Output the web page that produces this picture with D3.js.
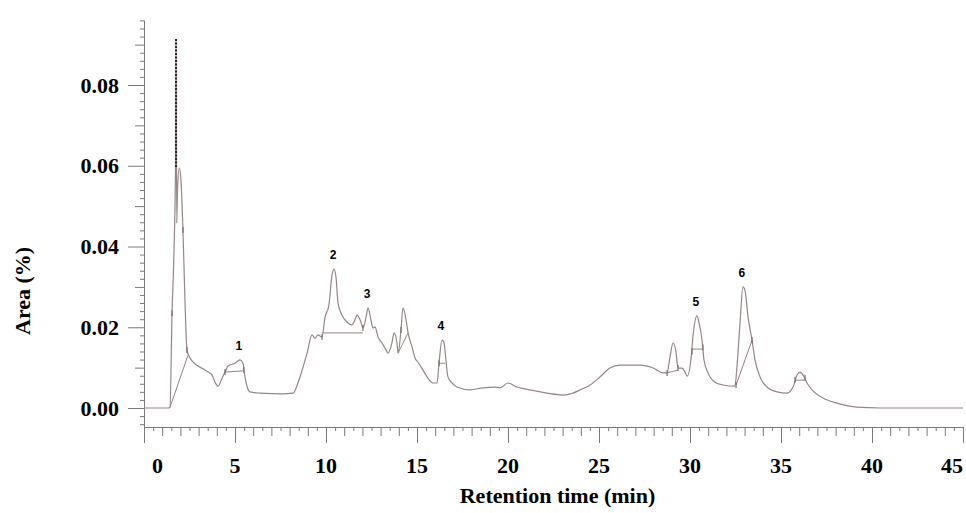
<!DOCTYPE html>
<html>
<head>
<meta charset="utf-8">
<script src="https://cdn.jsdelivr.net/npm/d3@7"></script>
<style>
  body { margin: 0; background: #fff; }
  svg { display: block; }
</style>
</head>
<body>
<div id="chart"></div>
<script>
// chromatogram trace (min, area %)
var time = [0, 1.32, 1.43, 1.54, 1.65, 1.73, 1.76, 1.80, 1.84, 1.94, 2.03, 2.14, 2.25, 2.36, 2.47, 2.69,
  3.24, 3.52, 3.74, 3.90, 4.07, 4.29, 4.45, 4.62, 5.00, 5.27, 5.44, 5.49, 5.66, 5.82, 6.37, 7.64, 8.19,
  8.57, 8.96, 9.23, 9.40, 9.56, 9.78, 9.95, 10.16, 10.33, 10.44, 10.55, 10.66, 10.88, 11.15, 11.43, 11.59,
  11.70, 11.92, 12.03, 12.20, 12.31, 12.47, 12.58, 12.69, 12.86, 13.08, 13.30, 13.41, 13.63, 13.74, 13.90,
  13.96, 14.12, 14.23, 14.40, 14.51, 14.73, 14.89, 15.05, 15.33, 15.60, 15.88, 16.10, 16.21, 16.37, 16.48,
  16.59, 16.70, 16.92, 17.20, 17.91, 18.63, 19.29, 19.56, 20.00, 20.49, 21.21, 22.14, 23.02, 23.57, 23.96,
  24.51, 25.05, 25.60, 26.15, 27.25, 27.97, 28.52, 28.74, 28.90, 29.07, 29.23, 29.34, 29.56, 29.73, 29.84,
  30.05, 30.16, 30.38, 30.49, 30.66, 30.77, 30.99, 31.37, 31.81, 32.47, 32.58, 32.75, 32.91, 33.02, 33.19,
  33.41, 33.57, 33.85, 34.23, 34.78, 35.33, 35.66, 35.88, 36.04, 36.21, 36.43, 36.70, 37.31, 38.08, 39.18,
  40.44, 45];
var area = [0, 0, 0.0002, 0.0235, 0.039, 0.0597, 0.0914, 0.0458, 0.054, 0.0594, 0.0565, 0.0441, 0.0267, 0.0144, 0.0129, 0.0114,
  0.0097, 0.0089, 0.0082, 0.0064, 0.0054, 0.0074, 0.0089, 0.0104, 0.0111, 0.0119, 0.0111, 0.0094, 0.0054, 0.0040, 0.0037, 0.0035, 0.0037,
  0.0077, 0.0136, 0.0181, 0.0173, 0.0181, 0.0176, 0.0225, 0.0255, 0.0329, 0.0344, 0.0324, 0.0260, 0.0230, 0.0213, 0.0206, 0.0218,
  0.0230, 0.0213, 0.0198, 0.0225, 0.0248, 0.0218, 0.0198, 0.0201, 0.0176, 0.0161, 0.0144, 0.0136, 0.0163, 0.0186, 0.0161,
  0.0136, 0.0193, 0.0248, 0.0218, 0.0186, 0.0151, 0.0124, 0.0114, 0.0094, 0.0074, 0.0062, 0.0062, 0.0111, 0.0168, 0.0163,
  0.0119, 0.0077, 0.0062, 0.0052, 0.0045, 0.0050, 0.0052, 0.0050, 0.0062, 0.0052, 0.0045, 0.0037, 0.0032, 0.0037, 0.0045,
  0.0057, 0.0077, 0.0099, 0.0106, 0.0106, 0.0099, 0.0087, 0.0087, 0.0126, 0.0161, 0.0139, 0.0099, 0.0099, 0.0089, 0.0079,
  0.0119, 0.0176, 0.0228, 0.0213, 0.0168, 0.0119, 0.0087, 0.0064, 0.0057, 0.0054, 0.0102, 0.0211, 0.0300, 0.0292, 0.0225,
  0.0168, 0.0119, 0.0077, 0.0052, 0.0040, 0.0037, 0.0052, 0.0082, 0.0089, 0.0082, 0.0062, 0.0045, 0.0025, 0.0012, 0.0002,
  0, 0];

// numbered peaks
var peakNames = ["1", "2", "3", "4", "5", "6"];
var peakTime = [5.27, 10.44, 12.31, 16.37, 30.38, 32.91];
var peakArea = [0.0119, 0.0344, 0.0248, 0.0168, 0.0228, 0.0300];

// integration baselines [t1, v1, t2, v2]
var baselines = [
  [1.43, 0.0002, 2.42, 0.0131],
  [4.45, 0.0089, 5.44, 0.0092],
  [9.78, 0.0186, 12.03, 0.0186],
  [13.96, 0.0136, 14.51, 0.0186],
  [16.21, 0.0111, 16.54, 0.0111],
  [28.74, 0.0087, 29.34, 0.0094],
  [30.11, 0.0146, 30.71, 0.0146],
  [32.53, 0.0057, 33.41, 0.0168],
  [35.77, 0.0069, 36.32, 0.0069]
];

// small integration marks on the trace
var markT = [1.54, 2.14, 2.36, 4.45, 5.49, 9.78, 12.03, 14.12, 16.21, 28.74, 29.34, 30.11, 30.71, 32.53, 33.41, 35.77, 36.32];
var markV = [0.0235, 0.0441, 0.0144, 0.0089, 0.0094, 0.0176, 0.0198, 0.0193, 0.0111, 0.0087, 0.0099, 0.0140, 0.0150, 0.0057, 0.0168, 0.0070, 0.0075];

// dotted part of the first peak
var dotT = 1.76;
var dotV = [0.0597, 0.0914];

var xTicks = [0, 5, 10, 15, 20, 25, 30, 35, 40, 45];
var yTicks = [0, 0.02, 0.04, 0.06, 0.08];

var W = 966, H = 513;
var margin = {top: 20, right: 3, bottom: 86, left: 144};
var width = W - margin.left - margin.right;
var height = H - margin.top - margin.bottom;

var svg = d3.select('#chart').append('svg').attr('width', W).attr('height', H);
var g = svg.append('g').attr('transform', 'translate(' + margin.left + ',' + margin.top + ')');

var x = d3.scaleLinear().domain([0, 45]).range([0, width]);
var y = d3.scaleLinear().domain([-0.0047, 0.0961]).range([height, 0]);

var axisColor = '#7a7a7a';
var serif = '"Liberation Serif", "Times New Roman", serif';

// x axis: ticks every 0.5 min
var xAxis = g.append('g').attr('transform', 'translate(0,' + height + ')')
  .call(d3.axisBottom(x).tickValues(d3.range(0, 45.001, 0.5)).tickFormat('').tickSizeOuter(0));
xAxis.select('.domain').attr('stroke', axisColor);
xAxis.selectAll('.tick line').attr('stroke', axisColor)
  .attr('y2', function(d) {
    if (Math.abs(d % 5) < 1e-6) return 16;
    if (Math.abs(d % 1) < 1e-6) return 9;
    return 4;
  });

g.append('g').selectAll('text').data(xTicks).join('text')
  .attr('x', function(d) { return x(d); })
  .attr('y', height + 46)
  .attr('dx', function(d, i) { return i == 0 ? 8 : 0; })
  .attr('text-anchor', function(d, i) { return i == 0 ? 'start' : (i == xTicks.length - 1 ? 'end' : 'middle'); })
  .style('font-family', serif).style('font-weight', 'bold').style('font-size', '22px')
  .text(function(d) { return d; });

// y axis: minor ticks every 0.002
var yAxis = g.append('g')
  .call(d3.axisLeft(y).tickValues(d3.range(-0.004, 0.0961, 0.002)).tickFormat('').tickSizeOuter(0));
yAxis.select('.domain').attr('stroke', axisColor);
yAxis.selectAll('.tick line').attr('stroke', axisColor)
  .attr('x2', function(d) {
    var k = Math.round(d * 1000);
    if (k % 20 == 0) return -16;
    if (k % 10 == 0) return -9;
    return -4;
  });

g.append('g').selectAll('text').data(yTicks).join('text')
  .attr('x', -25)
  .attr('y', function(d) { return y(d); })
  .attr('dy', '0.35em')
  .attr('text-anchor', 'end')
  .style('font-family', serif).style('font-weight', 'bold').style('font-size', '22px')
  .text(function(d) { return d3.format('.2f')(d); });

// axis titles
svg.append('text')
  .attr('x', margin.left + x(22.5) + 4)
  .attr('y', H - 10)
  .attr('text-anchor', 'middle')
  .style('font-family', serif).style('font-weight', 'bold').style('font-size', '22px')
  .text('Retention time (min)');

svg.append('text')
  .attr('transform', 'translate(30,' + (margin.top + y(0.029)) + ') rotate(-90)')
  .attr('text-anchor', 'middle')
  .style('font-family', serif).style('font-weight', 'bold').style('font-size', '22px')
  .text('Area (%)');

var traceColor = '#978686';

// baselines
g.append('g').selectAll('line').data(baselines).join('line')
  .attr('x1', function(d) { return x(d[0]); })
  .attr('y1', function(d) { return y(d[1]); })
  .attr('x2', function(d) { return x(d[2]); })
  .attr('y2', function(d) { return y(d[3]); })
  .attr('stroke', traceColor).attr('stroke-width', 1);

// trace
var pts = time.map(function(t, i) { return [t, area[i]]; });
var line = d3.line().curve(d3.curveMonotoneX)
  .x(function(d) { return x(d[0]); }).y(function(d) { return y(d[1]); });
g.append('path').datum(pts)
  .attr('d', line)
  .attr('fill', 'none')
  .attr('stroke', traceColor)
  .attr('stroke-width', 1.2)
  .attr('stroke-linejoin', 'round');

// integration marks
g.append('g').selectAll('line').data(markT).join('line')
  .attr('x1', function(d) { return x(d); })
  .attr('x2', function(d) { return x(d); })
  .attr('y1', function(d, i) { return y(markV[i]) - 3; })
  .attr('y2', function(d, i) { return y(markV[i]) + 3; })
  .attr('stroke', '#7a6262').attr('stroke-width', 1.1);

// dotted top of the first peak
g.append('line')
  .attr('x1', x(dotT)).attr('x2', x(dotT))
  .attr('y1', y(dotV[0])).attr('y2', y(dotV[1]))
  .attr('stroke', '#2a2020').attr('stroke-width', 2)
  .attr('stroke-dasharray', '2,1.5');

// peak numbers
g.append('g').selectAll('text').data(peakNames).join('text')
  .attr('x', function(d, i) { return x(peakTime[i]) - 1; })
  .attr('y', function(d, i) { return y(peakArea[i]) - 10; })
  .attr('text-anchor', 'middle')
  .style('font-family', '"Liberation Sans", Arial, sans-serif')
  .style('font-weight', 'bold').style('font-size', '12px')
  .text(function(d) { return d; });
</script>
</body>
</html>
